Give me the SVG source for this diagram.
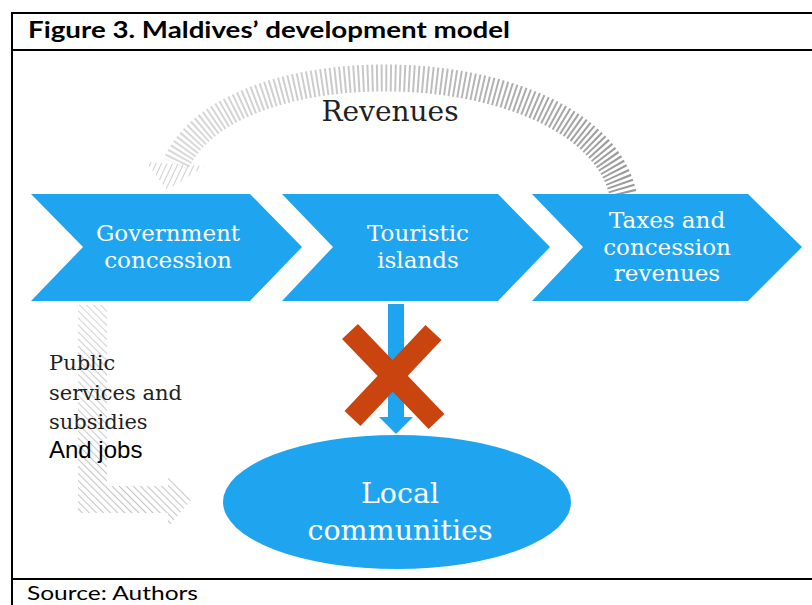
<svg xmlns="http://www.w3.org/2000/svg" width="812" height="605" viewBox="0 0 812 605">
<style>
.frame{stroke:#000;stroke-width:2;fill:none}
.chev{fill:#1FA5F0}
.wt{fill:#fff;font-family:"DejaVu Serif","Liberation Serif",serif;font-size:23px;text-anchor:middle}
.dk{fill:#222;font-family:"DejaVu Serif","Liberation Serif",serif}
.cap{fill:#000;font-family:Lato,"Open Sans","Liberation Sans",sans-serif}
</style>
<defs>
<linearGradient id="arcGrad" gradientUnits="userSpaceOnUse" x1="150" y1="0" x2="640" y2="0">
<stop offset="0" stop-color="#dcdcdc"/>
<stop offset="0.5" stop-color="#c4c4c4"/>
<stop offset="1" stop-color="#979797"/>
</linearGradient>
<pattern id="hatchHead" patternUnits="userSpaceOnUse" width="5" height="5" patternTransform="rotate(25)">
<line x1="0" y1="0" x2="0" y2="5" stroke="#cfcfcf" stroke-width="2"/>
</pattern>
<pattern id="hatchL" patternUnits="userSpaceOnUse" width="5" height="5" patternTransform="rotate(-45)">
<line x1="0" y1="0" x2="0" y2="5" stroke="#c4c4c4" stroke-width="2.2"/>
</pattern>
<linearGradient id="fadeL" gradientUnits="userSpaceOnUse" x1="0" y1="300" x2="0" y2="520">
<stop offset="0" stop-color="#fff" stop-opacity="0.7"/>
<stop offset="1" stop-color="#fff" stop-opacity="1"/>
</linearGradient>
<mask id="maskL" maskUnits="userSpaceOnUse" x="0" y="0" width="812" height="605">
<rect x="0" y="0" width="812" height="605" fill="url(#fadeL)"/>
</mask>
</defs>

<g id="frame">
<line class="frame" x1="12" y1="13" x2="812" y2="13"/>
<line class="frame" x1="12" y1="12" x2="12" y2="605"/>
<line class="frame" x1="12" y1="50" x2="812" y2="50"/>
<line class="frame" x1="12" y1="579" x2="812" y2="579"/>
<text class="cap" x="28" y="38" font-size="22" font-weight="bold" textLength="482" lengthAdjust="spacingAndGlyphs">Figure 3. Maldives’ development model</text>
<text class="cap" x="27" y="600" font-size="20" textLength="171" lengthAdjust="spacingAndGlyphs">Source: Authors</text>
</g>

<g id="connectors">
<g id="revenues-arrow">
<path d="M623 194 C590 50 230 40 176 164" fill="none" stroke="url(#arcGrad)" stroke-width="27" stroke-dasharray="2 2.6"/>
<polygon points="146,162 205,166 167,190" fill="url(#hatchHead)"/>
<text class="dk" x="390" y="121" font-size="28" text-anchor="middle">Revenues</text>
</g>
<g id="services-arrow" mask="url(#maskL)">
<path d="M78 305 L107 305 L107 486 L168 486 L168 474 L191 500 L168 527 L168 513 L78 513 Z" fill="url(#hatchL)"/>
</g>
<g id="public-label">
<text class="dk" x="49" y="370" font-size="21">Public</text>
<text class="dk" x="49" y="400" font-size="21">services and</text>
<text class="dk" x="49" y="429" font-size="21">subsidies</text>
<text x="49" y="458" font-size="24" fill="#000" font-family="'Liberation Sans',Arial,sans-serif">And jobs</text>
</g>
<g id="down-arrow">
<polygon points="388,304 404,304 404,417 413,417 396,434 379,417 388,417" fill="#1FA5F0"/>
</g>
<g id="blocked-x">
<line x1="350" y1="331.5" x2="436.5" y2="421.5" stroke="#C9440F" stroke-width="22"/>
<line x1="433.5" y1="332.5" x2="352.5" y2="418.5" stroke="#C9440F" stroke-width="22"/>
</g>
</g>

<g id="node-government">
<polygon class="chev" points="31,194 250,194 302,247 250,301 31,301 83,247"/>
<text class="wt" x="168" y="241">Government</text>
<text class="wt" x="168" y="268">concession</text>
</g>
<g id="node-touristic">
<polygon class="chev" points="282,194 498,194 550,247 498,301 282,301 333,247"/>
<text class="wt" x="418" y="241">Touristic</text>
<text class="wt" x="418" y="268">islands</text>
</g>
<g id="node-taxes">
<polygon class="chev" points="532,194 748,194 802,247 748,301 532,301 583,247"/>
<text class="wt" x="667" y="228">Taxes and</text>
<text class="wt" x="667" y="255">concession</text>
<text class="wt" x="667" y="281">revenues</text>
</g>
<g id="node-local">
<ellipse cx="397" cy="502" rx="174" ry="67" fill="#1FA5F0"/>
<text class="wt" x="400" y="503" style="font-size:28.5px">Local</text>
<text class="wt" x="400" y="540" style="font-size:28.5px">communities</text>
</g>
</svg>
